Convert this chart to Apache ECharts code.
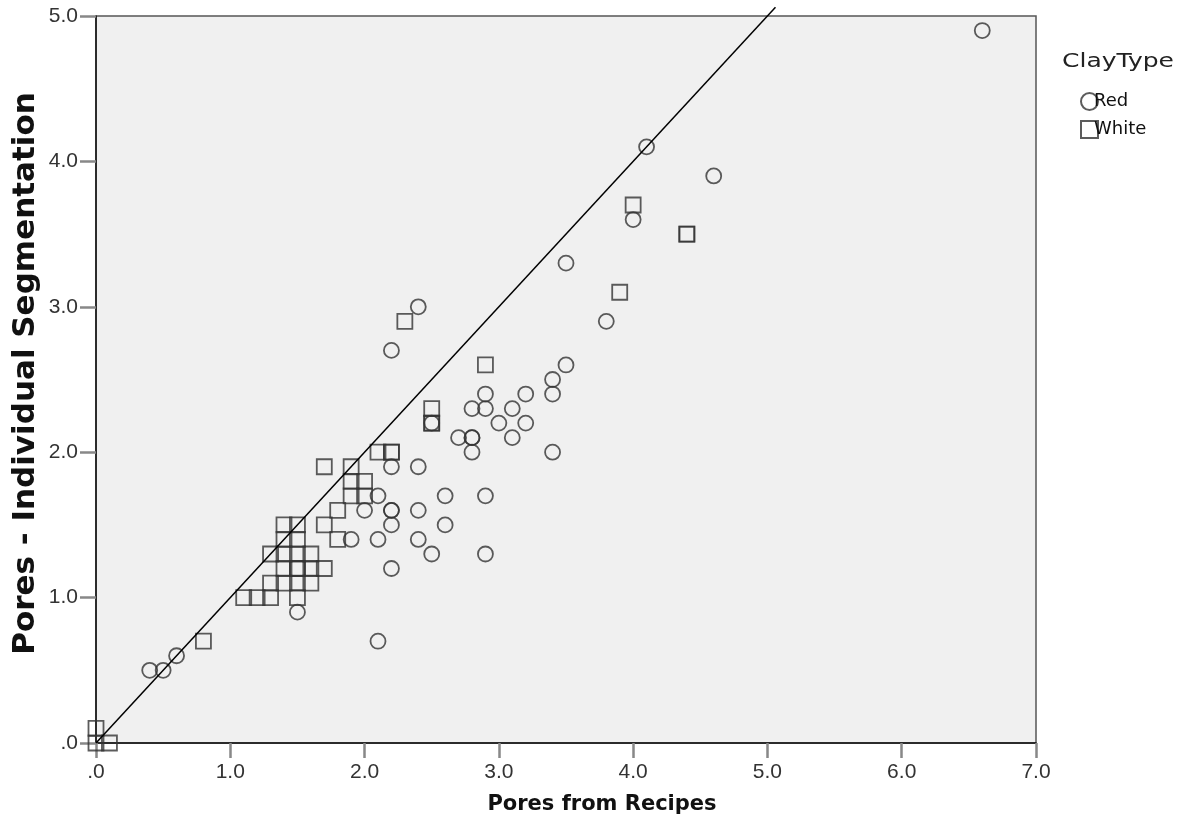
<!DOCTYPE html>
<html>
<head>
<meta charset="utf-8">
<script src="https://cdn.jsdelivr.net/npm/echarts@6/dist/echarts.min.js"></script>
<style>
html,body{margin:0;padding:0;background:#fff;}
#chart{width:1182px;height:829px;}
</style>
</head>
<body>
<div id="chart"></div>
<script>
// Red clay: [pores from recipes, pores individual segmentation]
const redPoints = [
  [6.6,4.9],[4.1,4.1],[4.6,3.9],[4.0,3.6],[3.5,3.3],[3.8,2.9],[2.4,3.0],[2.2,2.7],
  [3.5,2.6],[3.4,2.5],[3.4,2.4],[2.9,2.4],[3.2,2.4],[2.8,2.3],[2.9,2.3],[3.1,2.3],
  [3.0,2.2],[3.2,2.2],[2.5,2.2],[2.7,2.1],[2.8,2.1],[2.8,2.1],[3.1,2.1],[2.8,2.0],
  [3.4,2.0],[2.2,1.9],[2.4,1.9],[2.1,1.7],[2.6,1.7],[2.9,1.7],[2.0,1.6],[2.2,1.6],
  [2.2,1.6],[2.4,1.6],[2.2,1.5],[2.6,1.5],[1.9,1.4],[2.1,1.4],[2.4,1.4],[2.5,1.3],
  [2.9,1.3],[2.2,1.2],[1.5,0.9],[2.1,0.7],[0.4,0.5],[0.5,0.5],[0.6,0.6]
];
// White clay
const whitePoints = [
  [4.0,3.7],[4.4,3.5],[4.4,3.5],[3.9,3.1],[2.3,2.9],[2.9,2.6],[2.5,2.3],[2.5,2.2],
  [2.5,2.2],[2.1,2.0],[2.2,2.0],[2.2,2.0],[1.7,1.9],[1.9,1.9],[1.9,1.8],[2.0,1.8],
  [1.9,1.7],[2.0,1.7],[1.8,1.6],[1.4,1.5],[1.5,1.5],[1.7,1.5],[1.4,1.4],[1.5,1.4],
  [1.8,1.4],[1.3,1.3],[1.4,1.3],[1.5,1.3],[1.6,1.3],[1.4,1.2],[1.5,1.2],[1.5,1.2],
  [1.6,1.2],[1.7,1.2],[1.3,1.1],[1.4,1.1],[1.5,1.1],[1.6,1.1],[1.1,1.0],[1.2,1.0],
  [1.3,1.0],[1.5,1.0],[0.8,0.7],[0.0,0.1],[0.1,0.0],[0.0,0.0]
];
// Reference line y = x
const refLine = [[0,0],[5.06,5.06]];
const seriesNames = ['Red','White'];
const legendTitle = 'ClayType';
const xTitle = 'Pores from Recipes';
const yTitle = 'Pores - Individual Segmentation';

const fmt = v => (v === 0 ? '.0' : v.toFixed(1));
const markStyle = {color:'rgba(0,0,0,0)', borderColor:'#333', borderWidth:1.8};
const labelFont = 'Liberation Sans';
const titleFont = 'DejaVu Sans';

const chart = echarts.init(document.getElementById('chart'));
chart.setOption({
  animation:false,
  grid:{left:96, right:146, top:16, bottom:86, show:true, backgroundColor:'#f0f0f0', borderColor:'#555', borderWidth:1.5},
  graphic:[{type:'text', left:1062, top:52, scaleX:1.25, style:{text:legendTitle, font:"20px 'DejaVu Sans', sans-serif", fill:'#222'}}],
  legend:{
    orient:'vertical', left:1075, top:87, itemWidth:17, itemHeight:17, itemGap:9,
    data:seriesNames, textStyle:{fontSize:18, fontFamily:titleFont, color:'#111', padding:[0,0,0,-9]}
  },
  xAxis:{
    type:'value', min:0, max:7, interval:1,
    name:xTitle, nameLocation:'middle', nameGap:51, nameMoveOverlap:false,
    nameTextStyle:{fontSize:21, fontWeight:'bold', fontFamily:titleFont, color:'#111', padding:[0,0,0,72]},
    axisLine:{show:true, onZero:false, lineStyle:{color:'#111', width:1.5}},
    axisTick:{show:true, inside:false, length:15, lineStyle:{color:'#888', width:2.5}},
    axisLabel:{formatter:fmt, fontSize:21, fontFamily:labelFont, color:'#333', margin:19, showMaxLabel:true, showMinLabel:true},
    splitLine:{show:false}
  },
  yAxis:{
    type:'value', min:0, max:5, interval:1,
    name:yTitle, nameLocation:'middle', nameGap:55, nameMoveOverlap:false,
    nameTextStyle:{fontSize:31, fontWeight:'bold', fontFamily:titleFont, color:'#111', padding:[0,0,0,12]},
    axisLine:{show:true, onZero:false, lineStyle:{color:'#111', width:1.5}},
    axisTick:{show:true, inside:false, length:16, lineStyle:{color:'#888', width:2.5}},
    axisLabel:{formatter:fmt, fontSize:21, fontFamily:labelFont, color:'#333', margin:18, showMaxLabel:true, showMinLabel:true},
    splitLine:{show:false}
  },
  series:[
    {name:'Red', type:'scatter', symbol:'circle', symbolSize:15, data:redPoints, itemStyle:markStyle, z:3},
    {name:'White', type:'scatter', symbol:'rect', symbolSize:15, data:whitePoints, itemStyle:markStyle, z:3},
    {name:'fit', type:'line', data:refLine, symbol:'none', clip:false, lineStyle:{color:'#000', width:1.5}, z:4, silent:true}
  ]
});
</script>
</body>
</html>
